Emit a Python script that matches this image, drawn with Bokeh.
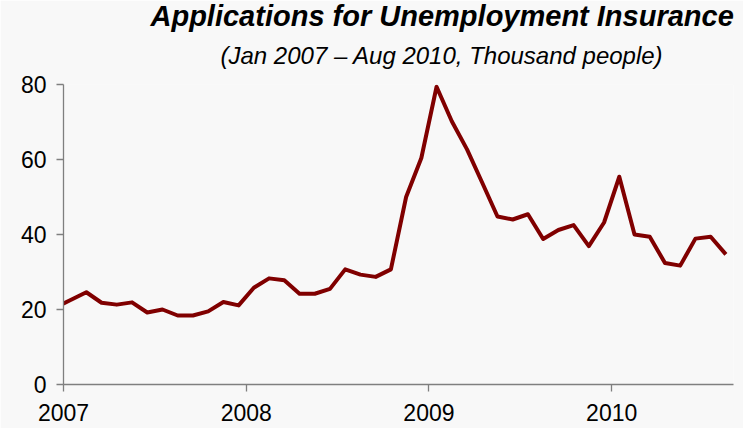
from bokeh.plotting import figure
from bokeh.models import Range1d, FixedTicker, Title
from bokeh.embed import file_html
from bokeh.resources import INLINE

# Monthly values (thousand people); the Dec 2006 point only feeds the clipped lead-in segment
months = [
    "Dec 2006",
    "Jan 2007", "Feb 2007", "Mar 2007", "Apr 2007", "May 2007", "Jun 2007",
    "Jul 2007", "Aug 2007", "Sep 2007", "Oct 2007", "Nov 2007", "Dec 2007",
    "Jan 2008", "Feb 2008", "Mar 2008", "Apr 2008", "May 2008", "Jun 2008",
    "Jul 2008", "Aug 2008", "Sep 2008", "Oct 2008", "Nov 2008", "Dec 2008",
    "Jan 2009", "Feb 2009", "Mar 2009", "Apr 2009", "May 2009", "Jun 2009",
    "Jul 2009", "Aug 2009", "Sep 2009", "Oct 2009", "Nov 2009", "Dec 2009",
    "Jan 2010", "Feb 2010", "Mar 2010", "Apr 2010", "May 2010", "Jun 2010",
    "Jul 2010", "Aug 2010",
]
applications = [
    20.6,
    22.6, 24.6, 21.8, 21.3, 21.9, 19.2, 20.0, 18.4, 18.4, 19.5, 22.0, 21.1,
    25.8, 28.3, 27.8, 24.2, 24.2, 25.5, 30.7, 29.3, 28.7, 30.7, 50.0, 60.4,
    79.4, 70.2, 62.7, 53.8, 44.8, 44.0, 45.4, 38.8, 41.2, 42.5, 36.9, 43.2,
    55.4, 40.0, 39.4, 32.4, 31.7, 38.9, 39.4, 34.7,
]
year_ticks = [0, 12, 24, 36]
year_labels = ["2007", "2008", "2009", "2010"]
y_ticks = [0, 20, 40, 60, 80]

title_text = "Applications for Unemployment Insurance"
subtitle_text = "(Jan 2007 \u2013 Aug 2010, Thousand people)"

# month position: mid-month, months counted from 1 Jan 2007
x = [i - 0.5 for i in range(len(months))]

FONT = "Liberation Sans"
BG = "#f8f8f8"

p = figure(
    width=743, height=428,
    x_range=Range1d(0, 44), y_range=Range1d(0, 80),
    output_backend="svg", toolbar_location=None,
    min_border_left=63, min_border_right=10,
    min_border_top=84, min_border_bottom=44,
)
p.title.visible = False
p.background_fill_color = BG
p.border_fill_color = BG
p.outline_line_color = None
p.xgrid.visible = False
p.ygrid.visible = False

p.line(x, applications, line_color="#800000", line_width=4, line_join="round")

for ax in (p.xaxis[0], p.yaxis[0]):
    ax.axis_line_color = "#7f7f7f"
    ax.axis_line_width = 1.3
    ax.major_tick_line_color = "#7f7f7f"
    ax.major_tick_line_width = 1.3
    ax.major_tick_out = 7
    ax.major_tick_in = 0
    ax.minor_tick_line_color = None
    ax.major_label_text_font = FONT
    ax.major_label_text_font_size = "23px"
    ax.major_label_text_color = "#000000"

p.yaxis.ticker = FixedTicker(ticks=y_ticks)
p.yaxis.major_label_standoff = 10
p.xaxis.ticker = FixedTicker(ticks=year_ticks)
p.xaxis.major_label_overrides = {t: l for t, l in zip(year_ticks, year_labels)}
p.xaxis.major_label_standoff = 12

# first added sits nearest the frame
p.add_layout(Title(
    text=subtitle_text, align="left", offset=157,
    text_font=FONT, text_font_style="italic", text_font_size="24px",
    text_color="#000000", standoff=31,
), "above")
p.add_layout(Title(
    text=title_text, align="left", offset=87,
    text_font=FONT, text_font_style="bold italic", text_font_size="29px",
    text_color="#000000", standoff=-14,
), "above")

open("out.html", "w").write(file_html(p, INLINE))
